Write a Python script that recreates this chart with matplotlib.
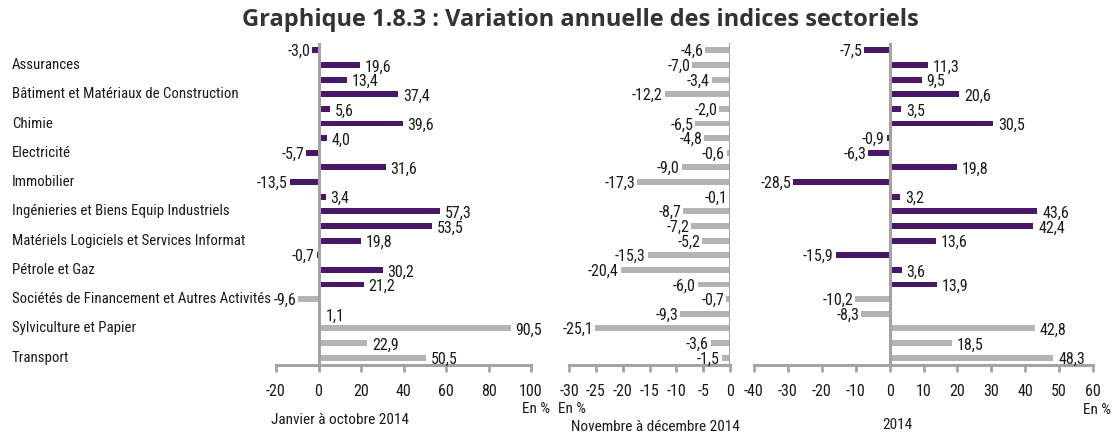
import matplotlib
matplotlib.use("Agg")
import matplotlib.pyplot as plt
import matplotlib.transforms as mtransforms
from matplotlib import font_manager

# ---- data -------------------------------------------------------------
sector_labels = [
    "Assurances",
    "Bâtiment et Matériaux de Construction",
    "Chimie",
    "Electricité",
    "Immobilier",
    "Ingénieries et Biens Equip Industriels",
    "Matériels Logiciels et Services Informat",
    "Pétrole et Gaz",
    "Sociétés de Financement et Autres Activités",
    "Sylviculture et Papier",
    "Transport",
]

jan_oct_2014 = [-3.0, 19.6, 13.4, 37.4, 5.6, 39.6, 4.0, -5.7, 31.6, -13.5, 3.4,
                57.3, 53.5, 19.8, -0.7, 30.2, 21.2, -9.6, 1.1, 90.5, 22.9, 50.5]
nov_dec_2014 = [-4.6, -7.0, -3.4, -12.2, -2.0, -6.5, -4.8, -0.6, -9.0, -17.3, -0.1,
                -8.7, -7.2, -5.2, -15.3, -20.4, -6.0, -0.7, -9.3, -25.1, -3.6, -1.5]
year_2014 = [-7.5, 11.3, 9.5, 20.6, 3.5, 30.5, -0.9, -6.3, 19.8, -28.5, 3.2,
             43.6, 42.4, 13.6, -15.9, 3.6, 13.9, -10.2, -8.3, 42.8, 18.5, 48.3]

# number of leading bars drawn in the dark colour (the rest are grey)
dark_count = [17, 0, 17]

panel_titles = ["Janvier à octobre 2014", "Novembre à décembre 2014", "2014"]
x_limits = [(-20, 100), (-30, 0), (-40, 60)]
x_steps = [20, 5, 10]

# ---- style ------------------------------------------------------------
available = {f.name for f in font_manager.fontManager.ttflist}
body_font = next((f for f in ["Liberation Sans Narrow", "Roboto Condensed",
                              "Open Sans Condensed", "Liberation Sans"]
                  if f in available), "DejaVu Sans")
plt.rcParams["font.family"] = [body_font, "DejaVu Sans"]
plt.rcParams["axes.unicode_minus"] = False

PURPLE = "#4a1768"
GREY = "#b4b4b4"
AXIS_GREY = "#a3a3a3"
TEXT = "#1a1a1a"
VAL_SIZE = 11.5

W, H = 1113, 436
fig = plt.figure(figsize=(W / 100, H / 100), dpi=100)

def px_axes(x0, x1, y_top, y_bot):
    return fig.add_axes([x0 / W, 1 - y_bot / H, (x1 - x0) / W, (y_bot - y_top) / H])

axes_px = [(276, 531), (569, 730), (754, 1093)]
series = [jan_oct_2014, nov_dec_2014, year_2014]
Y_TOP, Y_BOT = 43, 365

n = len(jan_oct_2014)
positions = list(range(n))

axes = []
for (x0, x1), values, ndark, (lo, hi), step in zip(axes_px, series, dark_count,
                                                   x_limits, x_steps):
    ax = px_axes(x0, x1, Y_TOP, Y_BOT)
    colors = [PURPLE if i < ndark else GREY for i in range(n)]
    ax.barh(positions, values, height=0.4, color=colors, zorder=2)
    ax.set_xlim(lo, hi)
    ax.set_ylim(n - 0.5, -0.5)
    ax.axvline(0, color=AXIS_GREY, lw=2.2, zorder=3)
    for side in ["top", "right", "left"]:
        ax.spines[side].set_visible(False)
    ax.spines["bottom"].set_color(AXIS_GREY)
    ax.spines["bottom"].set_linewidth(2.2)
    ax.set_yticks([])
    ax.set_xticks(list(range(lo, hi + 1, step)))
    ax.tick_params(axis="x", colors=AXIS_GREY, width=2, length=5,
                   labelcolor=TEXT, labelsize=VAL_SIZE, pad=9)
    ax.patch.set_alpha(0)
    for y, v in zip(positions, values):
        txt = f"{v:.1f}".replace(".", ",")
        if v >= 0:
            ax.annotate(txt, (v, y), xytext=(3.5, -1.5), textcoords="offset points",
                        ha="left", va="center", fontsize=VAL_SIZE, color=TEXT)
        else:
            ax.annotate(txt, (v, y), xytext=(-1.5, -1), textcoords="offset points",
                        ha="right", va="center", fontsize=VAL_SIZE, color=TEXT)
    axes.append(ax)

# sector names on every second bar, aligned to the left edge of the figure
trans = mtransforms.blended_transform_factory(fig.transFigure, axes[0].transData)
for k, name in enumerate(sector_labels):
    fig.text(12 / W, 2 * k + 1, name, transform=trans, ha="left", va="center",
             fontsize=10.7, color=TEXT)

# unit and period captions
def fig_text(x, y, s, **kw):
    fig.text(x / W, 1 - y / H, s, va="center", color=TEXT, **kw)

fig_text(536, 409, "En %", ha="center", fontsize=11)
fig_text(572, 409, "En %", ha="center", fontsize=11)
fig_text(1097, 410, "En %", ha="center", fontsize=11)
fig_text(340, 420, panel_titles[0], ha="center", fontsize=11)
fig_text(655, 427, panel_titles[1], ha="center", fontsize=11)
fig_text(897, 425, panel_titles[2], ha="center", fontsize=11)

fig.text(580 / W, 1 - 20 / H,
         "Graphique 1.8.3 : Variation annuelle des indices sectoriels",
         ha="center", va="center", fontsize=17, fontweight="bold",
         color="#333333", family=["Open Sans", "DejaVu Sans"])

fig.savefig("out.png", dpi=100)
